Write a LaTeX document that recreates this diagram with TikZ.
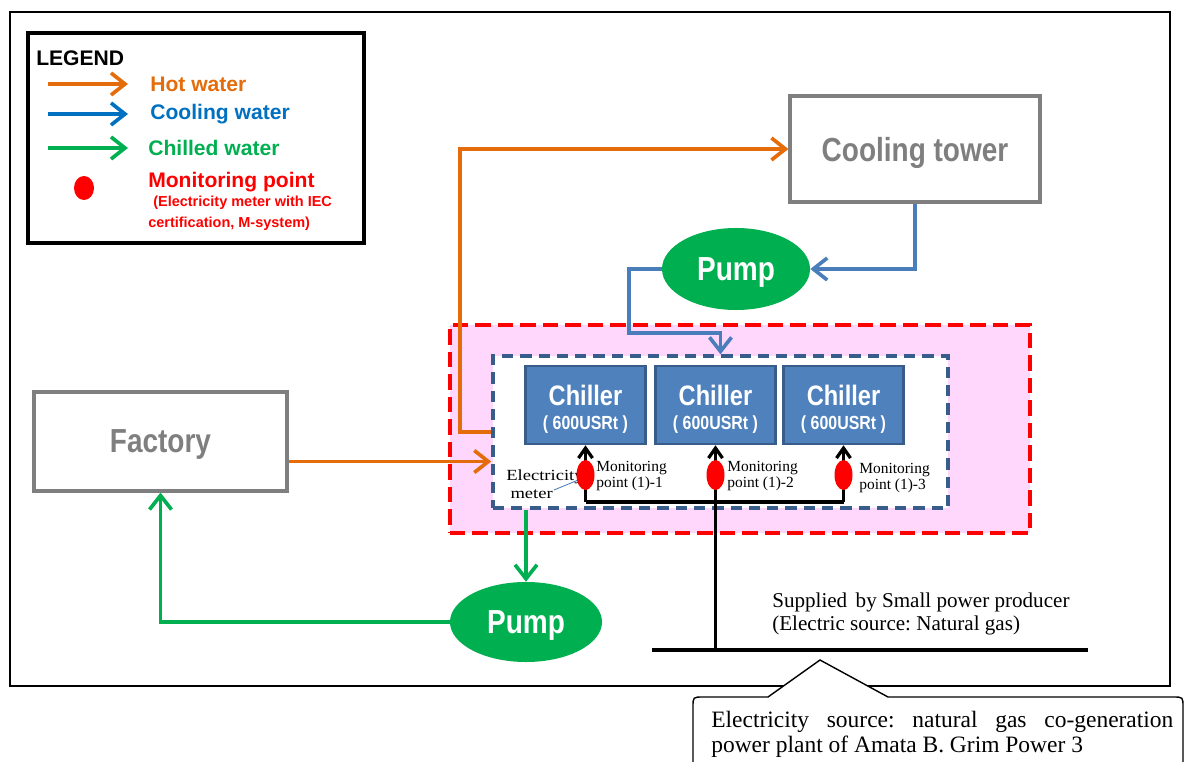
\documentclass[tikz,border=0pt]{standalone}
\usepackage{fontspec}
\setmainfont{Liberation Serif}
\newfontfamily\arialfont{Liberation Sans}
\newfontfamily\narrowfont[FakeStretch=0.84]{Liberation Sans}
\newfontfamily\wideserif[FakeStretch=1.2]{Liberation Serif}
\usetikzlibrary{arrows.meta,shapes.geometric}

\definecolor{hotorange}{HTML}{E46C0A}
\definecolor{coolblue}{HTML}{4A7EBB}
\definecolor{legendblue}{HTML}{0070C0}
\definecolor{chillgreen}{HTML}{00B050}
\definecolor{boxgray}{HTML}{7F7F7F}
\definecolor{chillerfill}{HTML}{4F81BD}
\definecolor{chillerline}{HTML}{385D8A}
\definecolor{zonepink}{HTML}{FFD7FD}

\frenchspacing
\begin{document}
\begin{tikzpicture}[x=0.025cm, y=-0.025cm,
  flow/.style={line width=2.6pt, -{Straight Barb[length=3.5mm,width=5.5mm]}},
  hot/.style={flow, draw=hotorange},
  cool/.style={flow, draw=coolblue},
  chill/.style={flow, draw=chillgreen},
  elec/.style={line width=2.3pt, draw=black},
  unitbox/.style={draw=boxgray, line width=2.2pt, fill=white, text=boxgray, text depth=0pt,
    font=\narrowfont\bfseries\fontsize{23.7}{26}\selectfont},
  pump/.style={ellipse, fill=chillgreen, text=white, inner sep=0pt, text depth=0pt,
    font=\narrowfont\bfseries\fontsize{23.7}{26}\selectfont},
  chiller/.style={draw=chillerline, line width=1.8pt, fill=chillerfill,
    minimum width=3cm, minimum height=1.95cm, inner sep=0pt,
    label={[text=white, inner sep=0pt, yshift=0.25cm,
      font=\narrowfont\bfseries\fontsize{20}{22}\selectfont]center:Chiller},
    label={[text=white, inner sep=0pt, yshift=-0.5cm,
      font=\narrowfont\bfseries\fontsize{13.5}{15}\selectfont]center:( 600USRt )}},
  mpoint/.style={ellipse, fill=red, minimum width=0.45cm, minimum height=0.75cm, inner sep=0pt},
  mlabel/.style={anchor=west, align=left, inner sep=0pt, font=\fontsize{11}{11.5}\selectfont},
  legtext/.style={anchor=west, inner sep=0pt, font=\arialfont\bfseries\fontsize{15}{18}\selectfont}
]
\useasboundingbox (0,0) rectangle (1185,762);
\draw[line width=1.3pt] (10,12) rectangle (1170,686);

% legend
\node[draw, line width=2.2pt, minimum width=8.4cm, minimum height=5.25cm] (legend) at (196,138) {};
\node[legtext] (lhead) at (36,58) {LEGEND};
\node[legtext, text=hotorange] (lhot) at (150,84) {Hot water};
\node[legtext, text=legendblue] (lcool) at (150,114) {Cooling water};
\node[legtext, text=chillgreen] (lchill) at (148,148) {Chilled water};
\node[legtext, text=red] (lmon) at (148,182) {Monitoring point};
\node[legtext, text=red, font=\arialfont\bfseries\fontsize{10.3}{12}\selectfont] (lmon2) at (153,203) {(Electricity meter with IEC};
\node[legtext, text=red, font=\arialfont\bfseries\fontsize{10.3}{12}\selectfont] (lmon3) at (148,224) {certification, M-system)};
\draw[hot] ([xshift=-2.55cm]lhot.west) -- ([xshift=-0.55cm]lhot.west);
\draw[cool, draw=legendblue] ([xshift=-2.55cm]lcool.west) -- ([xshift=-0.55cm]lcool.west);
\draw[chill] ([xshift=-2.5cm]lchill.west) -- ([xshift=-0.5cm]lchill.west);
\node[ellipse, fill=red, minimum width=0.5cm, minimum height=0.6cm, inner sep=0pt] (ldot) at (84,188) {};

% units
\node[unitbox, minimum width=6.25cm, minimum height=2.65cm] (tower) at (915,149) {Cooling tower};
\node[unitbox, minimum width=6.325cm, minimum height=2.475cm] (factory) at (160.5,441.5) {Factory};
\node[pump, minimum width=3.7cm, minimum height=2.05cm] (pumpT) at (736,269) {Pump};
\node[pump, minimum width=3.8cm, minimum height=2cm] (pumpB) at (526,622) {Pump};

% chiller plant
\node[draw=red, fill=zonepink, line width=2.6pt, dash pattern=on 11pt off 5pt,
  minimum width=14.5cm, minimum height=5.2cm] (zone) at (740,429) {};
\node[draw=chillerline, fill=white, line width=2.4pt, dash pattern=on 8pt off 5pt,
  minimum width=11.375cm, minimum height=3.8cm] (plant) at (720.5,432) {};
\node[chiller] (c1) at (585.5,405) {};
\node[chiller] (c2) at (715.5,405) {};
\node[chiller] (c3) at (843.5,405) {};

% water loops
\draw[hot] ([yshift=-0.5cm]factory.east) -- ([yshift=-0.5cm]factory.east -| plant.west);
\draw[hot] (plant.west) -- ++(-31,0) |- (tower.west);
\draw[cool] (tower.south) |- (pumpT.east);
\draw[cool] (pumpT.west) -- ++(-33,0) -- ++(0,64) -| (plant.north);
\draw[chill] (plant.south -| pumpB.north) -- (pumpB.north);
\draw[chill] (pumpB.west) -| (factory.south);

% electricity
\coordinate (bus) at (0,502);
\coordinate (mrow) at (0,475);
\coordinate (gridW) at (652,650);
\coordinate (gridE) at (1088,650);
\draw[elec] (gridW) -- (gridE);
\draw[elec] (c1.south |- bus) -- (c3.south |- bus);
\draw[elec, -{Straight Barb[length=2.5mm,width=3.5mm]}] (c1.south |- bus) -- (c1.south);
\draw[elec, -{Straight Barb[length=2.5mm,width=3.5mm]}] (c2.south |- gridW) -- (c2.south);
\draw[elec, -{Straight Barb[length=2.5mm,width=3.5mm]}] (c3.south |- bus) -- (c3.south);
\node[anchor=west, align=left, inner sep=0pt, font=\wideserif\fontsize{11}{12.5}\selectfont] (emeter) at (506,484)
  {Electricity\\\hspace{3pt}meter};
\coordinate (mtip) at (554,490);
\draw[coolblue, line width=0.6pt] (mtip) -- (583,478);
\node[mpoint] (m1) at (c1.south |- mrow) {};
\node[mpoint] (m2) at (c2.south |- mrow) {};
\node[mpoint] (m3) at (c3.south |- mrow) {};
\node[mlabel] (ml1) at (596,476) {Monitoring\\point (1)-1};
\node[mlabel] (ml2) at (727,476) {Monitoring\\point (1)-2};
\node[mlabel] (ml3) at (859,478) {Monitoring\\point (1)-3};
\node[anchor=west, align=left, inner sep=0pt, font=\fontsize{15}{17}\selectfont] (supply) at (772,614)
  {Supplied\hspace{0.4em}by Small power producer\\(Electric source: Natural gas)};

% callout
\draw[line width=1pt, fill=white] (693,775) -- (693,707) .. controls (693,697) .. (703,697) -- (768,697)
  -- (820,660) -- (888,697) -- (1173,697) .. controls (1183,697) .. (1183,707) -- (1183,775);
\node[anchor=north west, inner sep=0pt, align=left,
  font=\fontsize{16.7}{17.8}\selectfont] (source) at (711,711)
  {\makebox[11.55cm][s]{Electricity source: natural gas co-generation}\\power plant of Amata B. Grim Power 3};
\end{tikzpicture}
\end{document}
